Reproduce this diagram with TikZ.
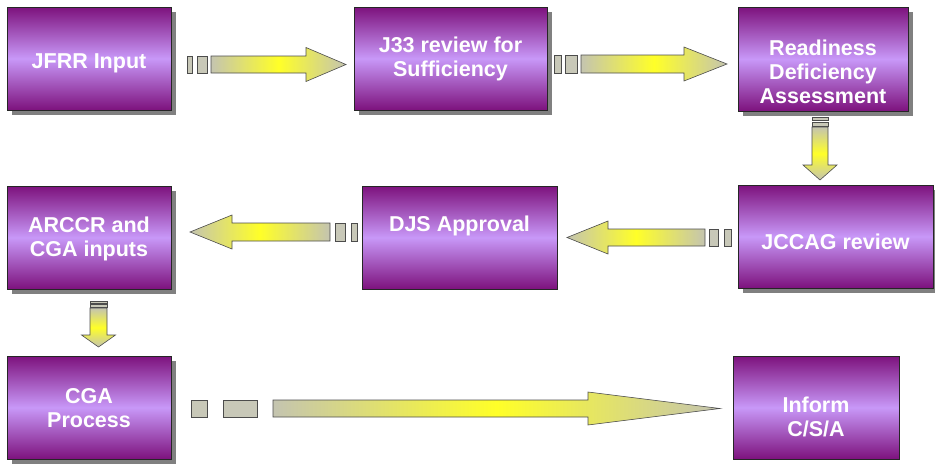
\documentclass[tikz,border=0pt]{standalone}
\usepackage{fontspec}
\newfontfamily\boxfont{Liberation Sans}
\usetikzlibrary{calc,shadows}

\definecolor{boxtop}{RGB}{125,18,125}
\definecolor{boxmid}{RGB}{200,152,248}
\definecolor{argray}{RGB}{196,196,176}
\definecolor{aryellow}{RGB}{255,255,40}
\definecolor{seggray}{RGB}{200,200,184}
\definecolor{shadowgray}{RGB}{128,128,128}

% block arrow: #1 style, #2 tail, #3 tip, #4 half shaft, #5 half head, #6 head length
\newcommand{\blockarrow}[6]{%
  \path (#2) coordinate (ba-s) (#3) coordinate (ba-t);
  \path ($(ba-t)!#6!(ba-s)$) coordinate (ba-h);
  \path[#1] ($(ba-s)!#4!90:(ba-t)$) -- ($(ba-h)!#4!90:(ba-t)$)
    -- ($(ba-h)!#5!90:(ba-t)$) -- (ba-t) -- ($(ba-h)!#5!-90:(ba-t)$)
    -- ($(ba-h)!#4!-90:(ba-t)$) -- ($(ba-s)!#4!-90:(ba-t)$) -- cycle;
}
% dash piece behind the tail: #1 tail, #2 tip, #3 from, #4 to, #5 half width
\newcommand{\blockseg}[5]{%
  \path ($(#1)!#3!180:(#2)$) coordinate (bs-a) ($(#1)!#4!180:(#2)$) coordinate (bs-b);
  \path[segbox] ($(bs-a)!#5!90:(#2)$) -- ($(bs-b)!#5!90:(#2)$)
    -- ($(bs-b)!#5!-90:(#2)$) -- ($(bs-a)!#5!-90:(#2)$) -- cycle;
}

\begin{document}
\begin{tikzpicture}[x=1pt,y=-1pt,
	box/.style={draw=black!85,line width=0.6pt,anchor=north west,outer sep=0pt,
		top color=boxtop,bottom color=boxtop,middle color=boxmid},
	shadowed/.style={drop shadow={shadow xshift=5pt,shadow yshift=-5pt,fill=shadowgray,opacity=1}},
	txt/.style={font=\boxfont\bfseries\fontsize{21.5}{24}\selectfont,text=white,align=center},
	arrowline/.style={draw=black!70,line width=0.6pt},
	harrow/.style={arrowline,left color=argray,right color=argray,middle color=aryellow},
	varrow/.style={arrowline,top color=argray,bottom color=argray,middle color=aryellow},
	segbox/.style={draw=black!70,line width=0.6pt,fill=seggray}]
\useasboundingbox (0,0) rectangle (935,464);

\node[box,shadowed,minimum width=164pt,minimum height=103pt,
	label={[txt,yshift=-5pt]center:JFRR Input}] (jfrr) at (7,7) {};
\node[box,shadowed,minimum width=193pt,minimum height=103pt,
	label={[txt]center:{J33 review for\\Sufficiency}}] (j33) at (354,7) {};
\node[box,shadowed,minimum width=170pt,minimum height=104pt,
	label={[txt,yshift=-12.5pt]center:{Readiness\\Deficiency\\Assessment}}] (rda) at (738,7) {};
\node[box,shadowed,minimum width=195pt,minimum height=103pt,
	label={[txt,yshift=-5.5pt]center:JCCAG review}] (jccag) at (738,185) {};
\node[box,minimum width=195pt,minimum height=103pt,
	label={[txt,yshift=11.5pt]center:DJS Approval}] (djs) at (362,186) {};
\node[box,shadowed,minimum width=164pt,minimum height=103pt,
	label={[txt,yshift=-1.5pt]center:{ARCCR and\\CGA inputs}}] (arccr) at (7,186) {};
\node[box,shadowed,minimum width=164pt,minimum height=103pt,
	label={[txt,yshift=-1pt]center:{CGA\\Process}}] (cga) at (7,356) {};
\node[box,minimum width=166pt,minimum height=103pt,
	label={[txt,yshift=-9.5pt]center:{Inform\\C/S/A}}] (inform) at (733,356) {};

% JFRR -> J33
\coordinate (a1s) at ($(jfrr.east)+(40,6)$);
\coordinate (a1t) at ($(j33.west)+(-8,6)$);
\blockseg{a1s}{a1t}{4pt}{14pt}{8.5pt}
\blockseg{a1s}{a1t}{19pt}{24pt}{8.5pt}
\blockarrow{harrow}{a1s}{a1t}{8.5pt}{17pt}{40pt}

% J33 -> Readiness
\coordinate (a2s) at ($(j33.east)+(34,5.5)$);
\coordinate (a2t) at ($(rda.west)+(-11,5)$);
\blockseg{a2s}{a2t}{4pt}{16pt}{9pt}
\blockseg{a2s}{a2t}{20pt}{27pt}{9pt}
\blockarrow{harrow}{a2s}{a2t}{9pt}{17pt}{43pt}

% Readiness -> JCCAG
\coordinate (a3s) at ($(rda.south)+(-3,16)$);
\coordinate (a3t) at ($(rda.south|-jccag.north)+(-3,-5)$);
\blockseg{a3s}{a3t}{0.7pt}{5pt}{8pt}
\blockseg{a3s}{a3t}{6.5pt}{10pt}{8pt}
\blockarrow{varrow}{a3s}{a3t}{8pt}{17pt}{15pt}

% JCCAG -> DJS
\coordinate (a4s) at ($(jccag.west)+(-33,1)$);
\coordinate (a4t) at ($(djs.east)+(10,0)$);
\blockseg{a4s}{a4t}{4pt}{13pt}{8.5pt}
\blockseg{a4s}{a4t}{19pt}{26pt}{8.5pt}
\blockarrow{harrow}{a4s}{a4t}{8.5pt}{16.5pt}{41pt}

% DJS -> ARCCR
\coordinate (a5s) at ($(djs.west)+(-32,-5.5)$);
\coordinate (a5t) at ($(arccr.east)+(19,-5.5)$);
\blockseg{a5s}{a5t}{5pt}{15pt}{9pt}
\blockseg{a5s}{a5t}{21pt}{27pt}{9pt}
\blockarrow{harrow}{a5s}{a5t}{9pt}{17pt}{42pt}

% ARCCR -> CGA
\coordinate (a6s) at ($(arccr.south)+(9.5,19)$);
\coordinate (a6t) at ($(cga.north)+(9.5,-9)$);
\blockseg{a6s}{a6t}{0.7pt}{3.5pt}{8.5pt}
\blockseg{a6s}{a6t}{4.5pt}{7pt}{8.5pt}
\blockarrow{varrow}{a6s}{a6t}{8.5pt}{17pt}{12pt}

% CGA -> Inform
\coordinate (a7s) at ($(cga.east)+(102,1)$);
\coordinate (a7t) at ($(inform.west)+(-13,1)$);
\blockseg{a7s}{a7t}{16pt}{50pt}{8.5pt}
\blockseg{a7s}{a7t}{66pt}{82pt}{8.5pt}
\blockarrow{harrow}{a7s}{a7t}{8.5pt}{16.5pt}{132pt}

\end{tikzpicture}
\end{document}
